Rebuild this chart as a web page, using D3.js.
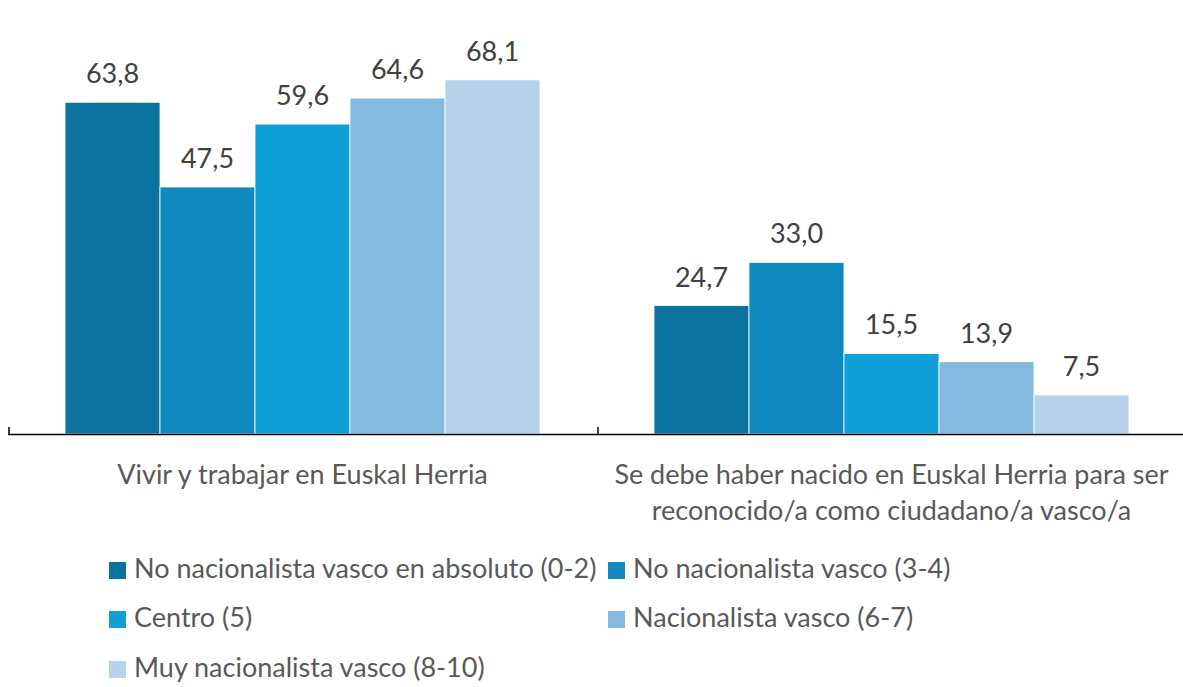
<!DOCTYPE html>
<html><head><meta charset="utf-8">
<script src="https://cdn.jsdelivr.net/npm/d3@7"></script>
<style>body{margin:0;background:#fff}svg{display:block}text{font-family:Lato,"Open Sans",sans-serif}</style>
</head><body>
<svg id="c" width="1183" height="687"></svg>
<script>
const categories = [
  ["Vivir y trabajar en Euskal Herria"],
  ["Se debe haber nacido en Euskal Herria para ser", "reconocido/a como ciudadano/a vasco/a"]
];
const series = [
  "No nacionalista vasco en absoluto (0-2)",
  "No nacionalista vasco (3-4)",
  "Centro (5)",
  "Nacionalista vasco (6-7)",
  "Muy nacionalista vasco (8-10)"
];
const values = [
  [63.8, 47.5, 59.6, 64.6, 68.1],
  [24.7, 33.0, 15.5, 13.9, 7.5]
];
const colors = ["#0C729E", "#1089BF", "#10A0D8", "#84BAE0", "#B7D3EB"];

const svg = d3.select("#c");
const x0 = d3.scaleBand().domain(d3.range(categories.length)).range([8, 1186]).paddingInner(0).paddingOuter(0);
const x1 = d3.scaleBand().domain(d3.range(series.length)).range([0, 475]);
const y = d3.scaleLinear().domain([0, 70]).range([434, 70]);
const fmt = d => d.toFixed(1).replace(".", ",");

const g = svg.selectAll("g.cat").data(values).join("g").attr("class", "cat")
  .attr("transform", (d, i) => `translate(${x0(i) + (x0.bandwidth() - 475) / 2},0)`);
g.selectAll("rect").data(d => d).join("rect")
  .attr("x", (d, j) => x1(j)).attr("width", x1.bandwidth())
  .attr("y", d => y(d)).attr("height", d => y(0) - y(d))
  .attr("fill", (d, j) => colors[j]).attr("stroke", "#fff").attr("stroke-width", 0.8);
g.selectAll("text").data(d => d).join("text")
  .attr("x", (d, j) => x1(j) + x1.bandwidth() / 2).attr("y", d => y(d) - 19)
  .attr("text-anchor", "middle").attr("font-size", 27).attr("fill", "#404040").text(fmt);

// axis
const ax = svg.append("g");
ax.append("line").attr("x1", 8).attr("x2", 1183).attr("y1", y(0) + 0.5).attr("y2", y(0) + 0.5).attr("stroke", "#000").attr("stroke-width", 1.5);
x0.domain().forEach(i => {
  const xx = x0(i);
  ax.append("line").attr("x1", xx + 1).attr("x2", xx + 1).attr("y1", y(0) - 7).attr("y2", y(0) + 1).attr("stroke", "#000").attr("stroke-width", 1.5);
});
categories.forEach((lines, i) => {
  const cx = x0(i) + x0.bandwidth() / 2;
  const t = svg.append("text").attr("text-anchor", "middle").attr("font-size", 27).attr("fill", "#595959")
    .attr("x", cx).attr("y", 484);
  lines.forEach((l, k) => t.append("tspan").attr("x", cx).attr("dy", k ? 36 : 0).text(l));
});

// legend
const legPos = [[109, 578], [608, 578], [109, 627], [608, 627], [109, 677]];
series.forEach((s, j) => {
  const [lx, ly] = legPos[j];
  svg.append("rect").attr("x", lx).attr("y", ly - 16).attr("width", 17).attr("height", 17).attr("fill", colors[j]);
  svg.append("text").attr("x", lx + 25).attr("y", ly).attr("font-size", 27).attr("fill", "#595959").text(s);
});
</script>
</body></html>
